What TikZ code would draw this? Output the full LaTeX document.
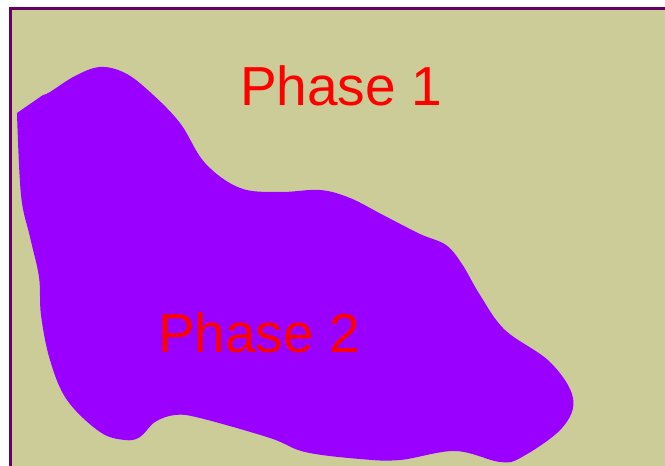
\documentclass[tikz,border=0pt]{standalone}
\usepackage{fontspec}
\setmainfont{Liberation Sans}
\definecolor{khaki}{HTML}{CCCC99}
\definecolor{framecol}{HTML}{660066}
\definecolor{blobcol}{HTML}{9900FF}
\definecolor{labelred}{HTML}{FF0000}
\tikzset{
  panel/.style={fill=khaki, draw=framecol, line width=3pt},
  phaseblob/.style={fill=blobcol},
  phaselabel/.style={anchor=base, inner sep=0pt, text=labelred, font=\fontsize{55}{60}\selectfont}
}
\begin{document}
\begin{tikzpicture}[x=1pt, y=-1pt]
\useasboundingbox (0,0) rectangle (665,466);
\clip (0,0) rectangle (665,466);
\path[panel] (10.7,8.8) rectangle (700,500);
\fill[phaseblob] (17,113) -- plot[smooth, tension=0.6] coordinates {
 (43,95) (50,92) (75,76) (100,67) (125,73) (150,92) (180,123) (205,163)
 (240,188) (280,192) (320,190) (350,198) (383,215) (420,234) (446,245)
 (462,264) (480,295) (505,330) (550,362) (573,398) (562,428)
 (522,457) (500,462) (455,451) (400,460) (360,459) (305,452) (270,438)
 (200,418) (175,415) (155,422) (140,437) (125,440) (100,432) (67,400)
 (50,360) (41,315) (39,277) (30,237) (21,195) (17,113)} -- cycle;
\node[phaselabel] (p1) at (341,105) {Phase 1};
\node[phaselabel] (p2) at (259,352) {Phase 2};
\end{tikzpicture}
\end{document}
